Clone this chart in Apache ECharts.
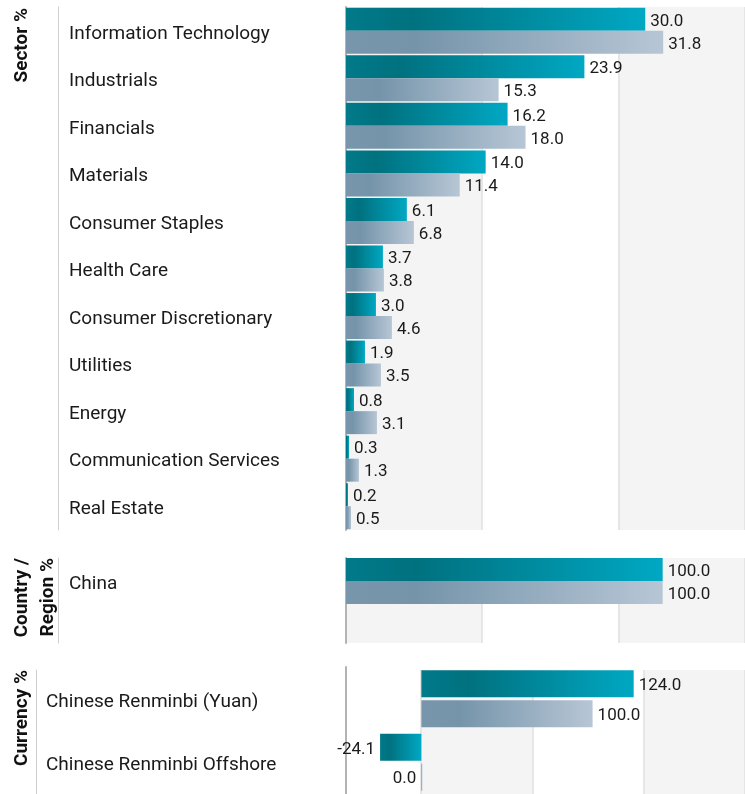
<!DOCTYPE html>
<html><head><meta charset="utf-8">
<script src="https://cdn.jsdelivr.net/npm/echarts@6/dist/echarts.min.js"></script>
<style>html,body{margin:0;padding:0;background:#fff}#c{width:745px;height:794px}</style>
</head><body><div id="c"></div>
<script>
// ---- data ----
const sectorCategories = ['Information Technology','Industrials','Financials','Materials','Consumer Staples','Health Care','Consumer Discretionary','Utilities','Energy','Communication Services','Real Estate'];
const sectorFund  = [30.0, 23.9, 16.2, 14.0, 6.1, 3.7, 3.0, 1.9, 0.8, 0.3, 0.2];
const sectorIndex = [31.8, 15.3, 18.0, 11.4, 6.8, 3.8, 4.6, 3.5, 3.1, 1.3, 0.5];
const countryCategories = ['China'];
const countryFund  = [100.0];
const countryIndex = [100.0];
const currencyCategories = ['Chinese Renminbi (Yuan)','Chinese Renminbi Offshore'];
const currencyFund  = [124.0, -24.1];
const currencyIndex = [100.0, 0.0];
const panelTitles = ['Sector %', 'Country /\nRegion %', 'Currency %'];
// axis extents and band (grid line) steps
const sectorAxis   = {min: 0,   max: 40,  step: 13.65};
const countryAxis  = {min: 0,   max: 126, step: 43};
const currencyAxis = {min: -44, max: 189, step: 65};

// ---- styles ----
const FONT = 'Roboto, "Liberation Sans", sans-serif';
const TXT = '#1a1a1a';
const BAND = ['#f4f4f4', '#ffffff'];
const GRIDLINE = '#e2e2e2';
const AXISLINE = '#b3b3b3';
const SEPLINE = '#cfcfcf';
const grad = (stops) => ({type:'linear', x:0, y:0, x2:1, y2:0, colorStops: stops.map(s => ({offset:s[0], color:s[1]}))});
const tealGrad = grad([[0,'#017a89'],[0.22,'#00717f'],[1,'#00a8c3']]);
const greyGrad = grad([[0,'#7896ab'],[0.22,'#7594aa'],[1,'#b7c6d5']]);

const barData = arr => arr.map(v => v <= 0 ? {value: v, label: {position: 'left'}} : v);
function barSeries(data, color, xi, yi, width, gap) {
  return {
    type: 'bar', xAxisIndex: xi, yAxisIndex: yi, data: barData(data),
    barWidth: width, barGap: gap, barMinHeight: 1,
    itemStyle: {color: color},
    label: {show: true, position: 'right', distance: 5, fontFamily: FONT, fontSize: 17, color: TXT,
            verticalAlign: 'top', lineHeight: 4, formatter: p => Number(p.value).toFixed(1)},
    silent: true
  };
}
const hiddenX = (gi, min, max) => ({type:'value', gridIndex: gi, min, max, show: false});
const bandX = (gi, min, max, interval) => ({
  type:'value', gridIndex: gi, min, max, interval,
  axisLine:{show:false}, axisTick:{show:false}, axisLabel:{show:false},
  splitLine:{show:true, showMinLine:true, lineStyle:{color:GRIDLINE, width:1.6}},
  splitArea:{show:true, areaStyle:{color:BAND}}
});
const catY = (gi, data, margin, line) => ({
  type:'category', gridIndex: gi, data, inverse: true,
  axisLine:{show: line, onZero:false, lineStyle:{color:AXISLINE, width:2}},
  axisTick:{show:false},
  axisLabel:{show:true, align:'left', margin, fontFamily: FONT, fontSize: 19, color: TXT,
             verticalAlign:'top', lineHeight: 6},
  splitLine:{show:false}
});
const lineY = (gi, offset, color, width) => ({
  type:'value', gridIndex: gi, position:'left', offset,
  axisLine:{show:true, onZero:false, lineStyle:{color, width}},
  axisTick:{show:false}, axisLabel:{show:false}, splitLine:{show:false}
});

const titleText = (text, x, y) => ({
  type:'text', x, y, rotation: Math.PI/2, silent: true,
  style:{text, fontFamily: FONT, fontWeight:'bold', fontSize: 19, fill:'#111',
         align:'right', verticalAlign:'middle', lineHeight: 26}
});

const option = {
  animation: false,
  grid: [
    {left: 346, right: 0, top: 7, height: 523},   // 0 sector
    {left: 346, right: 0, top: 558, height: 85},  // 1 country background
    {left: 346, right: 0, top: 556, height: 50},  // 2 country bars
    {left: 421, right: 0, top: 670, bottom: 0},   // 3 currency background
    {left: 346, right: 0, top: 667, height: 127}  // 4 currency bars
  ],
  xAxis: [
    bandX(0, sectorAxis.min, sectorAxis.max, sectorAxis.step),
    bandX(1, countryAxis.min, countryAxis.max, countryAxis.step),
    hiddenX(2, countryAxis.min, countryAxis.max),
    bandX(3, 0, currencyAxis.max, currencyAxis.step),
    hiddenX(4, currencyAxis.min, currencyAxis.max)
  ],
  yAxis: [
    catY(0, sectorCategories, 277, true),            // 0
    lineY(0, 288, SEPLINE, 1),                       // 1
    lineY(1, 0, AXISLINE, 2),                        // 2
    lineY(1, 288, SEPLINE, 1),                       // 3
    catY(2, countryCategories, 277, false),          // 4
    {type:'value', gridIndex:3, show:false},         // 5
    lineY(3, 385, SEPLINE, 1),                       // 6
    catY(4, currencyCategories, 300, true)           // 7
  ],
  series: [
    barSeries(sectorFund, tealGrad, 0, 0, 23, '0%'),
    barSeries(sectorIndex, greyGrad, 0, 0, 23, '0%'),
    barSeries(countryFund, tealGrad, 2, 4, 23, '0%'),
    barSeries(countryIndex, greyGrad, 2, 4, 23, '0%'),
    barSeries(currencyFund, tealGrad, 4, 7, 27, '11%'),
    barSeries(currencyIndex, greyGrad, 4, 7, 27, '11%')
  ],
  graphic: [
    titleText(panelTitles[0], 22, 8),
    titleText(panelTitles[1], 35, 558),
    titleText(panelTitles[2], 22, 670)
  ]
};
echarts.init(document.getElementById('c'), null, {renderer:'canvas'}).setOption(option);
</script></body></html>
